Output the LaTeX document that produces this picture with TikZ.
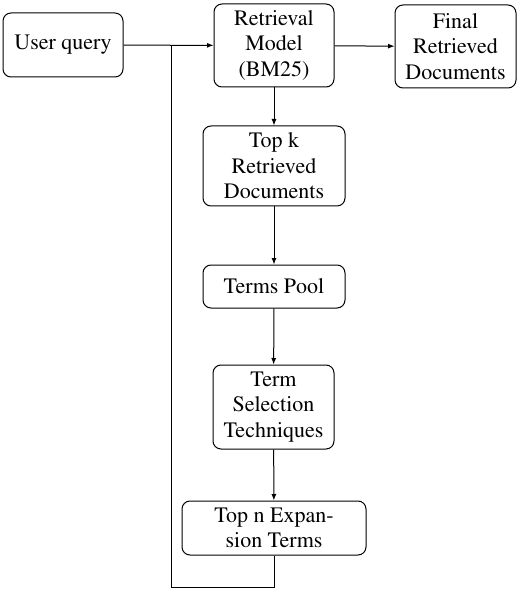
\documentclass[tikz,border=0pt]{standalone}
\usepackage[T1]{fontenc}
\usepackage{mathptmx}
\usetikzlibrary{arrows.meta}
\begin{document}
\begin{tikzpicture}[x=1pt,y=-1pt,
  box/.style={draw,rounded corners=8pt,line width=1pt,align=center,inner sep=0pt,
    font=\rmfamily\fontsize{22}{25.5}\selectfont},
  arr/.style={line width=1pt,-{Latex[length=6.5pt,width=5pt]}},
  ln/.style={line width=1pt}]
\useasboundingbox (0,0) rectangle (520,593);
\node[box,minimum width=120pt,minimum height=64pt] (uq) at (63,45) {User query};
\node[box,minimum width=120pt,minimum height=83pt] (rm) at (274,45.5) {Retrieval\\Model\\(BM25)};
\node[box,minimum width=121pt,minimum height=83pt] (fr) at (455.5,46.5) {Final\\Retrieved\\Documents};
\node[box,minimum width=142pt,minimum height=80pt] (tk) at (274,166) {Top k\\Retrieved\\Documents};
\node[box,minimum width=142pt,minimum height=43pt] (tp) at (274,286.5) {Terms Pool};
\node[box,minimum width=121pt,minimum height=84pt] (ts) at (273.5,407) {Term\\Selection\\Techniques};
\node[box,minimum width=184pt,minimum height=54pt] (tn) at (274,528) {Top n Expan-\\sion Terms};
\coordinate (j) at (171,45);
\draw[arr] (uq) -- (rm);
\draw[arr] (rm) -- (fr);
\draw[arr] (rm) -- (tk);
\draw[arr] (tk) -- (tp);
\draw[arr] (tp) -- (ts);
\draw[arr] (ts) -- (tn);
\draw[ln] (tn.south) -- ++(0,32) -| (j);
\end{tikzpicture}
\end{document}
